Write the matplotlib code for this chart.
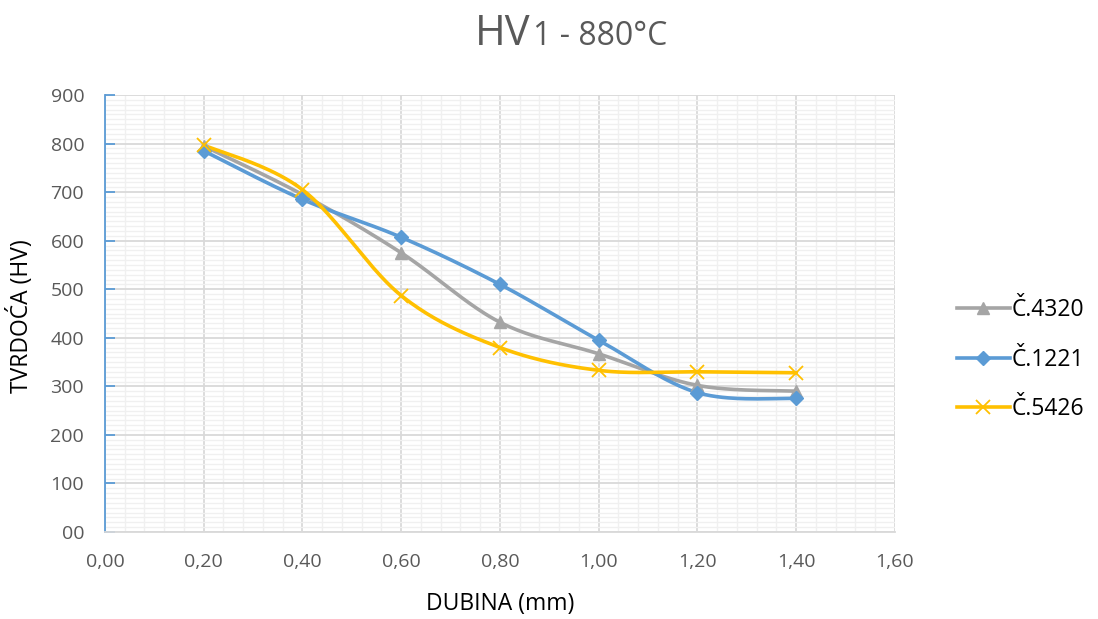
import numpy as np
import matplotlib
matplotlib.use("Agg")
import matplotlib.pyplot as plt
from matplotlib.ticker import MultipleLocator, FuncFormatter
from matplotlib.lines import Line2D

depth = [0.2, 0.4, 0.6, 0.8, 1.0, 1.2, 1.4]
c4320 = [795, 695, 575, 432, 367, 302, 290]
c1221 = [785, 685, 607, 510, 395, 287, 275]
c5426 = [797, 705, 487, 380, 333, 330, 328]
series_names = ["Č.4320", "Č.1221", "Č.5426"]

FONT = ["Open Sans", "DejaVu Sans"]
plt.rcParams['font.family'] = FONT


def smooth(x, y, n=40):
    x = np.asarray(x, float); y = np.asarray(y, float)
    px = np.concatenate([[x[0]], x, [x[-1]]])
    py = np.concatenate([[y[0]], y, [y[-1]]])
    xs, ys = [], []
    t = np.linspace(0, 1, n)
    for i in range(1, len(px) - 2):
        p0 = np.array([px[i], py[i]]); p3 = np.array([px[i+1], py[i+1]])
        c1 = p0 + (np.array([px[i+1], py[i+1]]) - np.array([px[i-1], py[i-1]])) / 6
        c2 = p3 - (np.array([px[i+2], py[i+2]]) - np.array([px[i], py[i]])) / 6
        b = ((1-t)**3)[:, None]*p0 + (3*(1-t)**2*t)[:, None]*c1 + (3*(1-t)*t**2)[:, None]*c2 + (t**3)[:, None]*p3
        xs.extend(b[:, 0]); ys.extend(b[:, 1])
    return np.array(xs), np.array(ys)


fig = plt.figure(figsize=(10.98, 6.19), dpi=100)
ax = fig.add_axes([0.0956, 0.1405, 0.7195, 0.706])

ax.set_xlim(0, 1.6)
ax.set_ylim(0, 900)
ax.xaxis.set_major_locator(MultipleLocator(0.2))
ax.xaxis.set_minor_locator(MultipleLocator(0.04))
ax.yaxis.set_major_locator(MultipleLocator(100))
ax.yaxis.set_minor_locator(MultipleLocator(10))
ax.grid(which='major', color='#d9d9d9', linewidth=1.3, zorder=0)
ax.grid(which='minor', color='#f0f0f0', linewidth=1.0, zorder=0)
ax.set_axisbelow(True)

ax.xaxis.set_major_formatter(FuncFormatter(lambda v, p: f"{v:.2f}".replace('.', ',')))
ax.yaxis.set_major_formatter(FuncFormatter(lambda v, p: "00" if v == 0 else f"{int(round(v))}"))

for s in ['top', 'right']:
    ax.spines[s].set_visible(False)
ax.spines['bottom'].set_color('#d9d9d9')
ax.spines['bottom'].set_linewidth(1.3)
ax.spines['left'].set_color('#5b9bd5')
ax.spines['left'].set_linewidth(1.3)
ax.tick_params(axis='y', which='major', direction='in', length=7, color='#5b9bd5', width=1.3,
               labelsize=14, labelcolor='#595959', pad=15)
ax.tick_params(axis='y', which='minor', length=0)
ax.tick_params(axis='x', which='both', length=0, labelsize=14, labelcolor='#595959', pad=15)

styles = [
    (c4320, '#a5a5a5', '^', 9, dict()),
    (c1221, '#5b9bd5', 'D', 7, dict()),
    (c5426, '#ffc000', 'x', 10, dict(markeredgewidth=1.3)),
]
handles = []
for (vals, col, mk, ms, extra), name in zip(styles, series_names):
    sx, sy = smooth(depth, vals)
    ax.plot(sx, sy, color=col, linewidth=2.6, zorder=3, solid_capstyle='round')
    ax.plot(depth, vals, linestyle='none', marker=mk, markersize=ms, color=col,
            markeredgecolor=col, zorder=4, **extra)
    handles.append(Line2D([0], [0], color=col, linewidth=2.6, marker=mk, markersize=ms,
                          markeredgecolor=col, **extra))

ax.set_xlabel("DUBINA (mm)", fontsize=16.5, color='#000000')
ax.set_ylabel("TVRDOĆA (HV)", fontsize=16.5, color='#000000')
ax.xaxis.set_label_coords(0.5, -0.138)
ax.yaxis.set_label_coords(-0.090, 0.494)

leg = fig.legend(handles, series_names, loc='center left', bbox_to_anchor=(0.8716, 0.419),
                 frameon=False, fontsize=16.5, handlelength=2.3, handletextpad=0.1,
                 labelspacing=1.12, borderpad=0, borderaxespad=0)

fig.text(0.4836, 0.927, "HV", fontsize=30, color='#595959', ha='right', va='baseline')
fig.text(0.4850, 0.927, "1 - 880°C", fontsize=23, color='#595959', ha='left', va='baseline')

fig.savefig("out.png", dpi=100)
